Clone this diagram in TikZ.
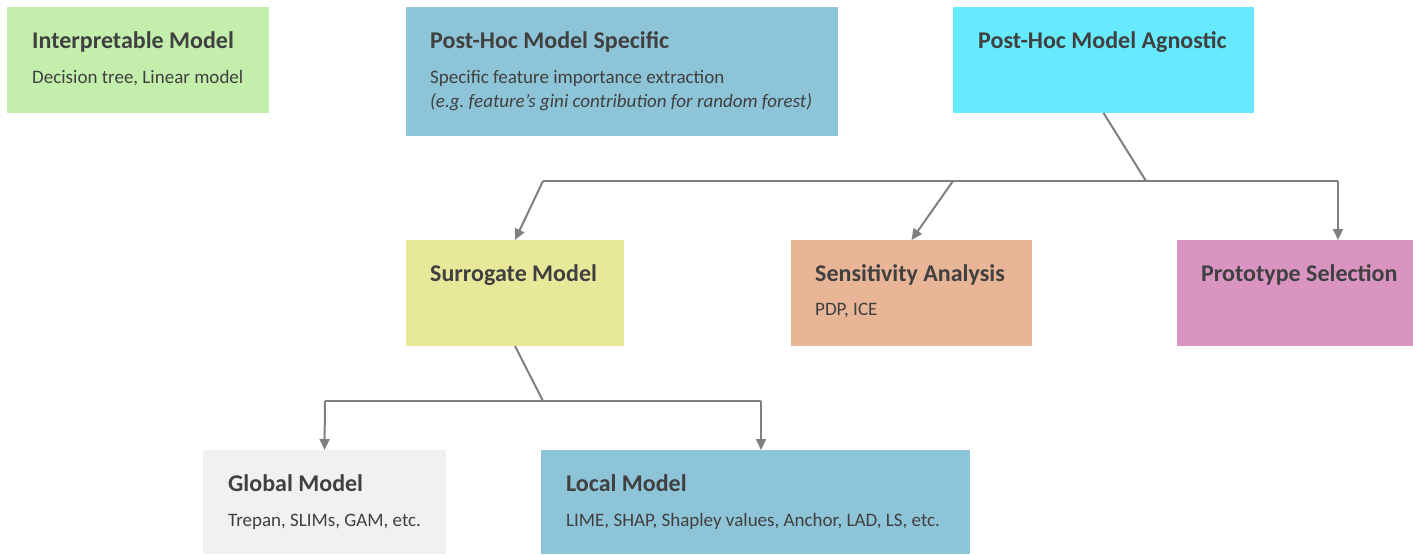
\documentclass[tikz,border=0pt]{standalone}
\usepackage{fontspec}
\setmainfont{Carlito}
\usetikzlibrary{arrows.meta,positioning,calc}
\definecolor{xaiText}{HTML}{404040}
\definecolor{xaiLine}{HTML}{7F7F7F}
\definecolor{xaiGreen}{HTML}{C3EEAC}
\definecolor{xaiBlue}{HTML}{8EC4D7}
\definecolor{xaiCyan}{HTML}{66EAFD}
\definecolor{xaiYellow}{HTML}{E8E89A}
\definecolor{xaiPeach}{HTML}{E9B597}
\definecolor{xaiPink}{HTML}{D994C2}
\definecolor{xaiGrey}{HTML}{F1F1F1}
\frenchspacing

\begin{document}
\begin{tikzpicture}[x=1pt,y=-1pt,
    box/.style={draw=none,inner sep=0pt,outer sep=0pt,anchor=north west},
    ttl/.style={font=\bfseries\fontsize{24}{28}\selectfont,text=xaiText,
                inner sep=0pt,anchor=base west},
    sub/.style={font=\fontsize{19}{24}\selectfont,text=xaiText,
                inner sep=0pt,anchor=base west},
    link/.style={draw=xaiLine,line width=2pt},
    arr/.style={link,-{Triangle[length=11pt,width=10pt]}}]
  \useasboundingbox (0,0) rectangle (1413,554);
  % top row
  \node[box,fill=xaiGreen,minimum width=262pt,minimum height=106pt] (interp) at (7,7) {};
  \node[box,fill=xaiBlue,minimum width=432pt,minimum height=129pt] (spec) at (406,7) {};
  \node[box,fill=xaiCyan,minimum width=301pt,minimum height=106pt] (agn) at (953,7) {};
  \node[ttl] (interpT) at ($(interp.north west)+(25,41)$) {Interpretable Model};
  \node[sub] (interpS) at ($(interp.north west)+(25,76)$) {Decision tree, Linear model};
  \node[ttl] (specT) at ($(spec.north west)+(24,41)$) {Post-Hoc Model Specific};
  \node[sub] (specS) at ($(spec.north west)+(24,76)$) {Specific feature importance extraction};
  \node[sub] (specI) at ($(spec.north west)+(24,100)$) {\itshape (e.g. feature’s gini contribution for random forest)};
  \node[ttl] (agnT) at ($(agn.north west)+(25,41)$) {Post-Hoc Model Agnostic};
  % middle row
  \node[box,fill=xaiYellow,minimum width=218pt,minimum height=106pt] (surr) at (406,240) {};
  \node[box,fill=xaiPeach,minimum width=241pt,minimum height=106pt] (sens) at (791,240) {};
  \node[box,fill=xaiPink,minimum width=236pt,minimum height=106pt] (proto) at (1177,240) {};
  \node[ttl] (surrT) at ($(surr.north west)+(24,41)$) {Surrogate Model};
  \node[ttl] (sensT) at ($(sens.north west)+(24,41)$) {Sensitivity Analysis};
  \node[sub] (sensS) at ($(sens.north west)+(24,75)$) {PDP, ICE};
  \node[ttl] (protoT) at ($(proto.north west)+(24,41)$) {Prototype Selection};
  % bottom row
  \node[box,fill=xaiGrey,minimum width=243pt,minimum height=104pt] (glob) at (203,450) {};
  \node[box,fill=xaiBlue,minimum width=429pt,minimum height=104pt] (loc) at (541,450) {};
  \node[ttl] (globT) at ($(glob.north west)+(25,41)$) {Global Model};
  \node[sub] (globS) at ($(glob.north west)+(25,76)$) {Trepan, SLIMs, GAM, etc.};
  \node[ttl] (locT) at ($(loc.north west)+(25,41)$) {Local Model};
  \node[sub] (locS) at ($(loc.north west)+(25,76)$) {LIME, SHAP, Shapley values, Anchor, LAD, LS, etc.};
  % connectors
  \coordinate (hubA) at (1146,181);
  \coordinate (lftA) at (543,181);
  \coordinate (midA) at (953,181);
  \coordinate (rgtA) at (1338,181);
  \draw[link] (agn.south) -- (hubA);
  \draw[link] (lftA) -- (rgtA);
  \draw[arr] (lftA) -- (surr.north);
  \draw[arr] (midA) -- (sens.north);
  \draw[arr] (rgtA) -- (rgtA |- proto.north);
  \coordinate (hubB) at (543,401);
  \coordinate (lftB) at (325,401);
  \coordinate (rgtB) at (761,401);
  \draw[link] (surr.south) -- (hubB);
  \draw[link] (lftB) -- (rgtB);
  \draw[arr] (lftB) -- (glob.north);
  \draw[arr] (rgtB) -- (rgtB |- loc.north);
\end{tikzpicture}
\end{document}
